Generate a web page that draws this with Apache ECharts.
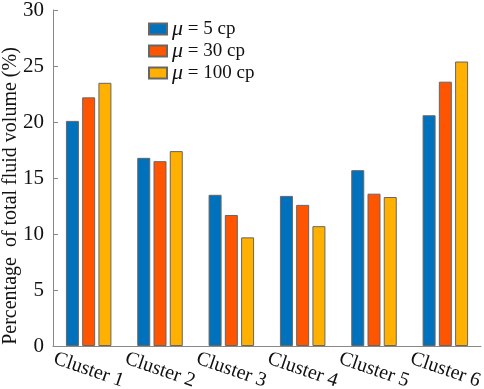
<!DOCTYPE html>
<html>
<head>
<meta charset="utf-8">
<script src="https://cdn.jsdelivr.net/npm/echarts@6/dist/echarts.min.js"></script>
<style>
html,body{margin:0;padding:0;background:#fff;}
#chart{width:484px;height:389px;}
</style>
</head>
<body>
<div id="chart"></div>
<script>
var categories = ['Cluster 1', 'Cluster 2', 'Cluster 3', 'Cluster 4', 'Cluster 5', 'Cluster 6'];
var seriesNames = ['μ = 5 cp', 'μ = 30 cp', 'μ = 100 cp'];
var mu5 = [20.1, 16.8, 13.5, 13.4, 15.7, 20.6];
var mu30 = [22.2, 16.5, 11.7, 12.6, 13.6, 23.6];
var mu100 = [23.5, 17.4, 9.7, 10.7, 13.3, 25.4];
var yTicks = [0, 5, 10, 15, 20, 25, 30];

var colors = ['#0072BD', '#FF5500', '#FFB000'];
var font = '"Liberation Serif", "DejaVu Serif", serif';

var myChart = echarts.init(document.getElementById('chart'));

function bar(name, data, i) {
	return {
		name: name,
		type: 'bar',
		data: data,
		barWidth: 13,
		barGap: '25%',
		itemStyle: {
			color: colors[i],
			borderColor: '#666',
			borderWidth: 1
		}
	};
}

var option = {
	animation: false,
	textStyle: { fontFamily: font },
	grid: { left: 53, right: 3, top: 10, bottom: 43, outerBoundsMode: 'none', containLabel: false },
	legend: {
		orient: 'vertical',
		left: 143,
		top: 13,
		itemWidth: 18,
		itemHeight: 11,
		itemGap: 0,
		selectedMode: false,
		icon: 'rect',
		data: seriesNames,
		formatter: function (name) {
			return '{m|μ}' + name.replace('μ', '');
		},
		textStyle: {
			fontFamily: font,
			fontSize: 19,
			color: '#111',
			lineHeight: 19,
			rich: {
				m: { fontFamily: font, fontSize: 22, lineHeight: 19, fontStyle: 'italic', color: '#111' }
			}
		}
	},
	xAxis: {
		type: 'category',
		data: categories,
		axisLine: { lineStyle: { color: '#888', width: 1 } },
		axisTick: { show: false },
		axisLabel: {
			interval: 0,
			rotate: -19,
			align: 'center',
			verticalAlign: 'middle',
			margin: 24,
			fontFamily: font,
			fontSize: 20,
			color: '#111'
		}
	},
	yAxis: {
		type: 'value',
		min: yTicks[0],
		max: yTicks[yTicks.length - 1],
		interval: 5,
		name: 'Percentage  of total fluid volume (%)',
		nameLocation: 'middle',
		nameGap: 32,
		nameMoveOverlap: false,
		nameTextStyle: { fontFamily: font, fontSize: 20, color: '#111', padding: [0, 36, 0, 0] },
		axisLine: { show: true, lineStyle: { color: '#888', width: 1 } },
		axisTick: { show: true, inside: true, length: 5, lineStyle: { color: '#888' } },
		axisLabel: { fontFamily: font, fontSize: 21, color: '#111', margin: 9 },
		splitLine: { show: false }
	},
	series: [
		bar(seriesNames[0], mu5, 0),
		bar(seriesNames[1], mu30, 1),
		bar(seriesNames[2], mu100, 2)
	]
};
myChart.setOption(option);
</script>
</body>
</html>
